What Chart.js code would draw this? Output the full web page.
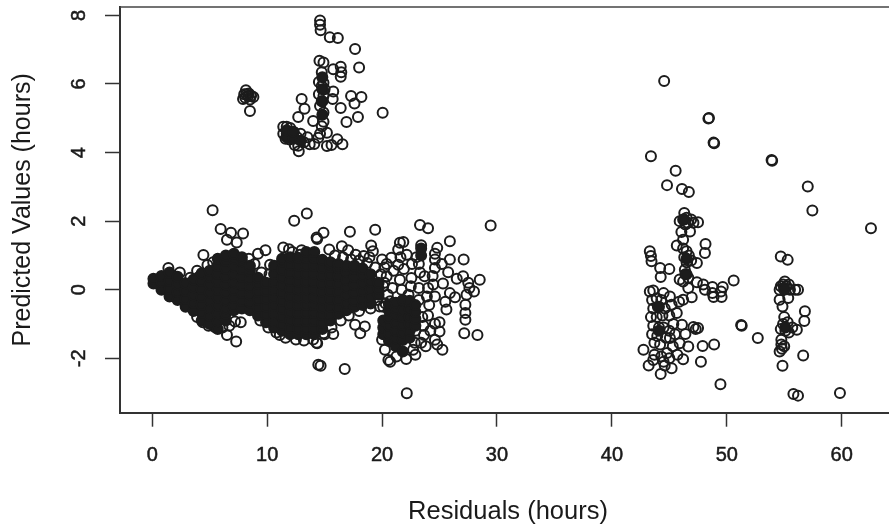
<!DOCTYPE html>
<html>
<head>
<meta charset="utf-8">
<script src="https://cdn.jsdelivr.net/npm/chart.js@4/dist/chart.umd.min.js"></script>
<style>
  html, body { margin: 0; background: #fff; overflow: hidden; }
</style>
</head>
<body>
<canvas id="myChart" width="889" height="527"></canvas>
<script>
const xTickValues = [0, 10, 20, 30, 40, 50, 60];
const yTickValues = [-2, 0, 2, 4, 6, 8];
const xTitle = "Residuals (hours)";
const yTitle = "Predicted Values (hours)";

// the overplotted black mass: residual of each column, then its predicted values
const coreResiduals = [0.1, 0.8, 1.5, 2.2, 2.9, 3.6, 4.3, 5.0, 5.7, 6.4, 7.1, 7.8, 8.5, 9.2, 9.9, 10.6, 11.3, 12.0, 12.7, 13.4, 14.1, 14.8, 15.5, 16.2, 16.9, 17.6, 18.3, 19.0, 19.7, 20.1, 20.6, 21.2, 21.8, 22.4, 22.9, 23.4,
  11.7, 12.3, 12.9, 14.8, 46.3, 46.5, 44, 44.1, 55, 55.1];
const corePredicted = [
  [.18, .32],
  [0, .23, .4],
  [-.2, .03, .26, .5],
  [-.3, -.07, .16, .38],
  [-.5, -.27, -.04, .19],
  [-.62, -.39, -.16, .07, .3],
  [-.9, -.67, -.44, -.21, .02, .25, .48],
  [-1, -.77, -.54, -.31, -.08, .15, .38, .55],
  [-1.15, -.92, -.69, -.46, -.23, 0, .23, .46, .69, .9],
  [-.9, -.7, -.54, -.31, -.08, .15, .38, .61, .84, 1],
  [-.6, -.47, -.24, -.01, .22, .45, .68, .91, 1.05],
  [-.55, -.32, -.09, .14, .37, .6, .83, .95],
  [-.6, -.37, -.14, .09, .32, .55, .7],
  [-.75, -.52, -.29, -.06, .17, .35],
  [-.95, -.72, -.49, -.26, -.03, .2],
  [-1.1, -.92, -.69, -.46, -.23, 0, .23, .46, .7],
  [-1.2, -1.02, -.79, -.56, -.33, -.1, .13, .36, .59, .82, .9],
  [-1.3, -1.12, -.89, -.66, -.43, -.2, .03, .26, .49, .72, .95],
  [-1.3, -1.14, -.91, -.68, -.45, -.22, .01, .24, .47, .7, .93],
  [-1.3, -1.14, -.91, -.68, -.45, -.22, .01, .24, .47, .7, .93, 1.1],
  [-1.3, -1.14, -.91, -.68, -.45, -.22, .01, .24, .47, .7, .93, 1.1],
  [-1.15, -.97, -.74, -.51, -.28, -.05, .18, .41, .64, .87],
  [-.9, -.72, -.49, -.26, -.03, .2, .43, .66, .8],
  [-.7, -.52, -.29, -.06, .17, .4, .63, .75],
  [-.6, -.39, -.16, .07, .3, .53, .7],
  [-.5, -.32, -.09, .14, .37, .6, .7],
  [-.45, -.27, -.04, .19, .42, .62],
  [-.4, -.22, .01, .24, .45],
  [-.15, .03, .2],
  [-1.3, -1.1, -.9],
  [-1.5, -1.27, -1.05, -.82, -.6, -.45],
  [-1.65, -1.42, -1.2, -.97, -.75, -.55, -.38],
  [-1.8, -1.47, -1.25, -1.02, -.8, -.6, -.3],
  [-1.4, -1.2, -1, -.8, -.58, -.32],
  [-1.05, -.85, -.65, -.45],
  [1, 1.2],
  [4.45, 4.65],
  [4.42, 4.6],
  [4.35],
  [5.1, 5.5, 5.85, 6.2],
  [2.05],
  [.45, .9],
  [-.5],
  [-1.2],
  [.05],
  [-1.1],
];

// open circles around the mass and up to x = 30
const lowCluster = [
  [5.25, 2.32], [5.95, 1.77], [6.85, 1.66], [6.5, 1.46], [7.9, 1.64], [7.35, 1.38], [4.45, 1.01], [9.2, 1.05], [9.85, 1.15], [10.25, .73],
  [1.4, .63], [4.05, .37], [12.35, 2.01], [13.45, 2.22], [7.3, -1.51], [7.2, -.93], [6.5, -1.32], [5.9, -.78], [6.7, -1.05], [7.7, -.95],
  [14.45, -2.19], [22.15, -3.02], [14.65, -2.22], [16.75, -2.31], [11.4, 1.23], [14.3, 1.52], [11.1, -1.32], [14.3, -1.55], [12.85, 1.02], [11.9, 1.18],
  [14.9, 1.66], [14.35, 1.48], [17.2, 1.69], [19.4, 1.75], [19.05, 1.29], [19.2, 1.12], [15.4, 1.17], [16.5, 1.27], [17.05, 1.15], [17.7, 1.02],
  [18.4, .98], [18.9, .95], [23.3, 1.89], [24, 1.79], [29.45, 1.87], [25.9, 1.41], [25.9, .88], [27.1, .88], [24.8, 1.22], [24.6, 1.05],
  [28.5, .29], [28, -.05], [26.35, -.22], [26.5, .32], [25.75, .51], [27.05, .39], [27.5, .2], [27.6, .05], [27.35, -.15], [27.25, -.44],
  [27.25, -.68], [27.25, -.88], [27.15, -1.27], [28.3, -1.32], [25.25, -1.75], [25, -1.22], [24.6, -1.46], [23.65, -1.32], [25.6, -.58], [24.6, -.99],
  [24, -.75], [24.6, -.2], [25.3, .18], [24.45, .15], [23.7, .39], [24.6, .63], [24.6, .88], [21.55, 1.37], [21.85, 1.39], [21.4, 1.17],
  [20.8, .93], [20, .88], [22.15, 1.02], [21.4, .73], [20.4, .39], [21.55, .29], [22.55, .34], [23.3, .5], [20.7, -.34], [19.8, -.49],
  [23.9, -.2], [18.1, -1.27], [17.65, -1.02], [18.5, -1.07], [15.75, -1.29], [14.9, -1.27], [14.35, -1.56], [20, -1.46], [20.25, -1.75], [20.55, -2.05],
  [20.7, -2.1], [22.1, -2.02], [22.7, -1.75], [22.85, -1.55], [21.25, -1.95], [20.2, .65], [21, .55], [21.9, .6], [22.6, .75], [23, .95],
  [20.1, .1], [20.9, .05], [21.7, 0], [22.5, .1], [23.2, .05], [24, .05], [20.5, -.15], [22.3, -.15], [23.2, -.3], [24.1, -.45],
  [23.5, -.8], [23.6, -1.05], [24.2, -1.2], [25, -.95], [23.4, -1.55], [23.8, -1.65], [24.8, -1.6], [22.9, -1.2], [25.5, -.35], [25.9, -.1],
  [23.4, 1.3], [23.2, .75], [24.4, .4], [25.2, .75], [21.6, .95], [20.4, .75], [22.9, -1.9],
  // fringe of the black mass
  [2.4, .5], [3.3, .35], [3.9, .55], [4.8, .72], [5.3, .8], [5.5, -1.1], [4.9, -1.05], [4.4, -.95], [3.9, -.8], [6.1, -1.1],
  [8.4, .9], [8.9, .75], [9.5, .5], [10.2, .45], [9.4, -.9], [10.1, -1.1], [10.8, -1.25], [11.6, -1.4], [12.5, -1.45], [13.2, -1.48],
  [14, -1.45], [15, -1.3], [15.6, -1.1], [16.4, -.9], [17.1, -.75], [18, -.62], [19, -.55], [15.9, 1], [16.6, .95], [17.3, .88],
  [18, .85], [18.7, .78], [19.4, .65], [19.9, .45], [20.2, .2], [19.6, -.3], [20.1, -.5], [20.3, -.4], [13, 1.15], [12.2, 1.1],
];

const upperCluster = [
  [14.6, 7.85], [14.6, 7.73], [14.65, 7.57], [15.45, 7.36], [16.15, 7.34], [17.65, 7.02], [18, 6.48], [14.55, 6.68], [14.9, 6.63], [15.75, 6.43],
  [16.4, 6.5], [16.45, 6.34], [16.4, 6.21], [14.75, 6.34], [14.9, 6.04], [14.75, 5.94], [14.5, 6.06], [15, 5.85], [15.75, 5.78], [15.7, 5.56],
  [14.75, 5.5], [14.6, 5.36], [14.9, 5.17], [14.5, 5.7], [14.9, 5.65], [17.3, 5.65], [18.2, 5.62], [17.6, 5.43], [16.4, 5.3], [17.9, 5.04],
  [16.9, 4.89], [20.05, 5.16], [13, 5.56], [13.25, 5.28], [12.7, 5.04], [14, 4.92], [14.75, 4.77], [15.2, 4.58], [14.45, 4.43], [13.5, 4.45],
  [13.7, 4.24], [12.75, 4.04], [12.7, 4.2], [15.2, 4.19], [16.1, 4.39], [16.55, 4.24], [15.6, 4.22], [14.1, 4.25], [14.6, 4.55], [14.9, 4.9],
  [11.4, 4.75], [11.7, 4.75], [12, 4.72], [11.4, 4.55], [11.7, 4.55], [12, 4.55], [12.3, 4.6], [11.6, 4.4], [11.95, 4.38], [12.3, 4.4],
  [12.6, 4.45], [12.9, 4.55], [12.4, 4.22], [13.2, 4.3], [8.5, 5.21], [8.35, 5.65], [8.15, 5.82], [7.9, 5.56], [8.8, 5.62], [8.2, 5.7],
  [8.5, 5.55], [8.1, 5.6], [8.4, 5.72], [8.6, 5.66], [8, 5.7],
];

const rightCluster = [
  [44.55, 6.09], [48.4, 4.99], [48.45, 5.01], [48.85, 4.29], [48.9, 4.27], [43.4, 3.89], [53.9, 3.78], [53.95, 3.76], [45.55, 3.47], [44.8, 3.05],
  [46.1, 2.94], [46.7, 2.85], [57.05, 3.01], [57.45, 2.31], [62.55, 1.79], [46.3, 2.24], [45.9, 2], [46.5, 2.1], [47.1, 1.95], [47.5, 1.97],
  [46.2, 2.05], [46.6, 1.95], [46.4, 1.9], [46.9, 2.05], [46.05, 1.68], [46.8, 1.7], [46.2, 1.46], [45.65, 1.29], [48.15, 1.33], [48.1, 1.07],
  [46.5, 1.12], [46.2, 1.2], [46.7, 1], [46.3, .95], [46.9, .85], [46.5, .8], [43.3, 1.12], [43.4, .98], [54.7, .97], [55.3, .87],
  [43.45, .83], [44.2, .63], [45, .6], [44.25, .37], [47.4, .78], [46.35, .58], [46.2, .24], [45.9, .3], [46.65, .35], [46.4, .45],
  [47.4, .22], [47.95, .15], [48.1, 0], [48.75, .08], [49.65, .08], [50.6, .27], [48.85, -.21], [49.55, -.21], [48.75, -.1], [49.5, -.05],
  [46.65, .05], [46.95, -.22], [46.2, -.29], [45.85, -.35], [43.3, -.05], [43.6, -.02], [43.5, -.3], [43.9, -.25], [44.3, -.3], [43.6, -.55],
  [44.1, -.5], [44.5, -.1], [43.4, -.8], [43.9, -.8], [44.4, -.75], [43.6, -1.05], [44.1, -1.1], [44.6, -.55], [43.5, -1.3], [43.95, -1.35],
  [44.5, -1.1], [43.7, -1.55], [44.2, -1.6], [44.7, -1.4], [45.05, -.2], [45.2, -.44], [45.65, -.68], [45, -.75], [45.35, -1], [45, -1.2],
  [45.05, -1.41], [45.5, -1.3], [45.3, -1.65], [44.8, -1.85], [44.3, -1.95], [43.7, -1.9], [42.75, -1.75], [43.2, -2.21], [43.6, -2.05], [44.25, -2.46],
  [44.6, -2.21], [44.5, -2.1], [45.2, -2.29], [45, -2], [45.7, -1.9], [51.25, -1.03], [51.3, -1.05], [52.7, -1.41], [49.45, -2.76], [47.75, -2.1],
  [48.9, -1.6], [47.9, -1.64], [46.65, -1.66], [46.2, -2.03], [47.5, -1.12], [47.1, -1.09], [47.3, -1.15], [46.1, -1.02], [46.4, -1.29], [45.9, -1.56],
  [54.7, .1], [55.05, .24], [55.2, .1], [55.5, 0], [55.95, 0], [56.2, 0], [54.6, 0], [55, 0], [54.9, .15], [55.4, .15],
  [54.6, -.29], [55.35, -.24], [54.85, -.49], [56.8, -.63], [56.75, -.91], [55, -.8], [55.3, -.95], [54.9, -1], [54.7, -1.15], [55.4, -1.25],
  [56.1, -1.17], [55.7, -1.1], [55.1, -1.2], [54.75, -1.46], [54.75, -1.6], [54.6, -1.8], [55, -1.65], [54.8, -1.72], [56.65, -1.92], [54.85, -2.22],
  [55.8, -3.04], [56.2, -3.09], [59.85, -3.01],
];

const coreData = coreResiduals.flatMap((x, i) => corePredicted[i].map((y) => ({ x, y })));
const openData = [...lowCluster, ...upperCluster, ...rightCluster].map(([x, y]) => ({ x, y }));

const inkColor = "#1c1c1c";
const textColor = "#1a1a1a";

const plotBox = {
  id: "plotBox",
  // the original plot runs past the right edge, so its x title sits right of our centre
  afterLayout(chart) {
    chart.scales.x.right += 14;
  },
  // R draws a box, chart.js only gives left and bottom here
  beforeDatasetsDraw(chart) {
    const { ctx, chartArea } = chart;
    ctx.save();
    ctx.strokeStyle = "#444";
    ctx.lineWidth = 1.5;
    ctx.beginPath();
    ctx.moveTo(chartArea.left, chartArea.top);
    ctx.lineTo(889, chartArea.top);
    ctx.stroke();
    ctx.restore();
  },
};

new Chart(document.getElementById("myChart").getContext("2d"), {
  type: "scatter",
  plugins: [plotBox],
  data: {
    datasets: [
      {
        label: "overplotted",
        data: coreData,
        pointRadius: 5,
        borderWidth: 2,
        borderColor: inkColor,
        backgroundColor: inkColor,
      },
      {
        label: "points",
        data: openData,
        pointRadius: 5,
        borderWidth: 2,
        borderColor: inkColor,
        backgroundColor: "rgba(0,0,0,0)",
        clip: false,
      },
    ],
  },
  options: {
    responsive: false,
    animation: false,
    layout: { padding: 0 },
    plugins: { legend: { display: false }, tooltip: { enabled: false } },
    scales: {
      x: {
        type: "linear",
        min: -2.81,
        max: 63.51,
        afterBuildTicks: (scale) => {
          scale.ticks = xTickValues.map((value) => ({ value }));
        },
        afterFit: (scale) => {
          scale.height = 114.3;
          scale.paddingLeft = 0;
          scale.paddingRight = 0;
        },
        grid: { drawOnChartArea: false, tickLength: 14, tickColor: "#333", tickWidth: 1.5 },
        border: { color: "#333", width: 2 },
        ticks: {
          color: textColor,
          padding: 17,
          maxRotation: 0,
          textStrokeColor: textColor,
          textStrokeWidth: 0.5,
          font: { family: "Liberation Sans", size: 20 },
        },
        title: {
          display: true,
          text: xTitle,
          color: textColor,
          padding: { top: 0, bottom: 0 },
          font: { family: "Liberation Sans", size: 25.5 },
        },
      },
      y: {
        type: "linear",
        min: -3.588,
        max: 8.246,
        afterBuildTicks: (scale) => {
          scale.ticks = yTickValues.map((value) => ({ value }));
        },
        afterFit: (scale) => {
          scale.width = 120;
          scale.paddingTop = 0;
          scale.paddingBottom = 0;
        },
        grid: { drawOnChartArea: false, tickLength: 15, tickColor: "#333", tickWidth: 1.5 },
        border: { color: "#333", width: 2 },
        ticks: {
          color: textColor,
          padding: 17,
          minRotation: 90,
          maxRotation: 90,
          crossAlign: "center",
          textStrokeColor: textColor,
          textStrokeWidth: 0.5,
          font: { family: "Liberation Sans", size: 20 },
        },
        title: {
          display: true,
          text: yTitle,
          color: textColor,
          padding: { top: 8, bottom: 0 },
          font: { family: "Liberation Sans", size: 25 },
        },
      },
    },
  },
});
</script>
</body>
</html>
